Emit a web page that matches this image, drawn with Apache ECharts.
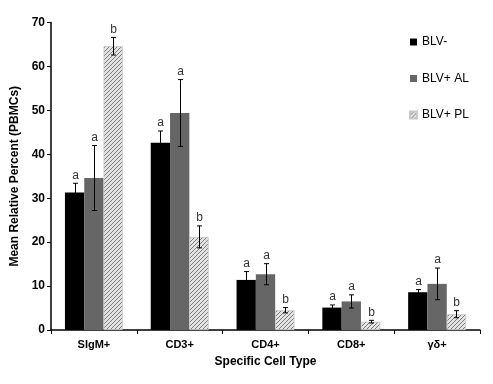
<!DOCTYPE html>
<html>
<head>
<meta charset="utf-8">
<script src="https://cdn.jsdelivr.net/npm/echarts@6/dist/echarts.min.js"></script>
<style>html,body{margin:0;padding:0;background:#fff}#c{width:493px;height:384px}</style>
</head>
<body>
<div id="c"></div>
<script>
const categories = ['SIgM+', 'CD3+', 'CD4+', 'CD8+', 'γδ+'];
const seriesNames = ['BLV-', 'BLV+ AL', 'BLV+ PL'];
const blvNeg = [31.3, 42.6, 11.4, 5.1, 8.6];
const blvNegErr = [2.1, 2.7, 1.9, 0.6, 0.6];
const blvAL = [34.6, 49.4, 12.7, 6.5, 10.5];
const blvALErr = [7.4, 7.6, 2.4, 1.5, 3.6];
const blvPL = [64.6, 21.2, 4.5, 1.9, 3.6];
const blvPLErr = [2.0, 2.5, 0.6, 0.3, 0.8];
const lettersNeg = ['a', 'a', 'a', 'a', 'a'];
const lettersAL = ['a', 'a', 'a', 'a', 'a'];
const lettersPL = ['b', 'b', 'b', 'b', 'b'];
const yTicks = [0, 10, 20, 30, 40, 50, 60, 70];

const FONT = '"Liberation Sans", Arial, sans-serif';
const CAT_GAP = 0.325;

function hatch() {
  const cv = document.createElement('canvas');
  cv.width = 4; cv.height = 4;
  const ctx = cv.getContext('2d');
  ctx.fillStyle = '#e4e4e4';
  ctx.fillRect(0, 0, 4, 4);
  ctx.strokeStyle = '#7a7a7a';
  ctx.lineWidth = 1;
  ctx.beginPath();
  ctx.moveTo(-1, 5); ctx.lineTo(5, -1);
  ctx.moveTo(-1, 1); ctx.lineTo(1, -1);
  ctx.moveTo(3, 5); ctx.lineTo(5, 3);
  ctx.stroke();
  return cv;
}

const values = [blvNeg, blvAL, blvPL];
const errs = [blvNegErr, blvALErr, blvPLErr];
const letters = [lettersNeg, lettersAL, lettersPL];
const colors = ['#000000', '#666666', { image: hatch(), repeat: 'repeat' }];

const series = [];
values.forEach((vals, i) => {
  series.push({
    name: seriesNames[i],
    type: 'bar',
    data: vals,
    barGap: '0%',
    barCategoryGap: (CAT_GAP * 100) + '%',
    itemStyle: i === 2 ? { color: colors[i], borderColor: '#c8c8c8', borderWidth: 0.8 } : { color: colors[i] },
    z: 2
  });
});
values.forEach((vals, i) => {
  series.push({
    type: 'custom',
    z: 5,
    silent: true,
    data: vals.map((v, k) => [k, v, errs[i][k], letters[i][k]]),
    renderItem: function (params, api) {
      const k = api.value(0), v = api.value(1), e = api.value(2);
      const band = api.size([1, 0])[0];
      const barW = band * (1 - CAT_GAP) / 3;
      const c = api.coord([k, v]);
      const x = Math.round(c[0] + (i - 1) * barW) + 0.5;
      const yt = api.coord([k, v + e])[1];
      const yb = api.coord([k, v - e])[1];
      const cap = 2.5;
      const st = { stroke: '#000', lineWidth: 1 };
      return {
        type: 'group',
        children: [
          { type: 'line', shape: { x1: x, y1: yt, x2: x, y2: yb }, style: st },
          { type: 'line', shape: { x1: x - cap, y1: yt, x2: x + cap, y2: yt }, style: st },
          { type: 'line', shape: { x1: x - cap, y1: yb, x2: x + cap, y2: yb }, style: st },
          { type: 'text', style: { text: letters[i][k], x: x, y: yt - 2, align: 'center', verticalAlign: 'bottom', fill: '#333', font: '12px ' + FONT } }
        ]
      };
    }
  });
});

const chart = echarts.init(document.getElementById('c'), null, { renderer: 'canvas' });
chart.setOption({
  animation: false,
  backgroundColor: '#fff',
  textStyle: { fontFamily: FONT },
  grid: { left: 51, right: 13, top: 22.5, bottom: 54 },
  legend: {
    data: seriesNames,
    orient: 'vertical',
    left: 404,
    top: 31,
    itemWidth: 7,
    itemHeight: 7,
    itemGap: 24.5,
    icon: 'rect',
    textStyle: { fontSize: 12, color: '#000', fontFamily: FONT }
  },
  xAxis: {
    type: 'category',
    data: categories,
    name: 'Specific Cell Type',
    nameLocation: 'middle',
    nameGap: 26,
    nameTextStyle: { fontSize: 12, fontWeight: 'bold', color: '#000', fontFamily: FONT },
    axisLine: { lineStyle: { color: '#000', width: 1.5 } },
    axisTick: { show: true, length: 4, inside: false, lineStyle: { color: '#000' } },
    axisLabel: { fontSize: 11, fontWeight: 'bold', color: '#000', margin: 9, fontFamily: FONT }
  },
  yAxis: {
    type: 'value',
    min: yTicks[0],
    max: yTicks[yTicks.length - 1],
    interval: 10,
    name: 'Mean Relative Percent (PBMCs)',
    nameLocation: 'middle',
    nameGap: 27,
    nameTextStyle: { fontSize: 12, fontWeight: 'bold', color: '#000', fontFamily: FONT },
    axisLine: { show: true, lineStyle: { color: '#000', width: 1.5 } },
    axisTick: { show: true, length: 4, lineStyle: { color: '#000' } },
    splitLine: { show: false },
    axisLabel: { fontSize: 12, fontWeight: 'bold', color: '#000', margin: 6, fontFamily: FONT }
  },
  series: series
});
</script>
</body>
</html>
